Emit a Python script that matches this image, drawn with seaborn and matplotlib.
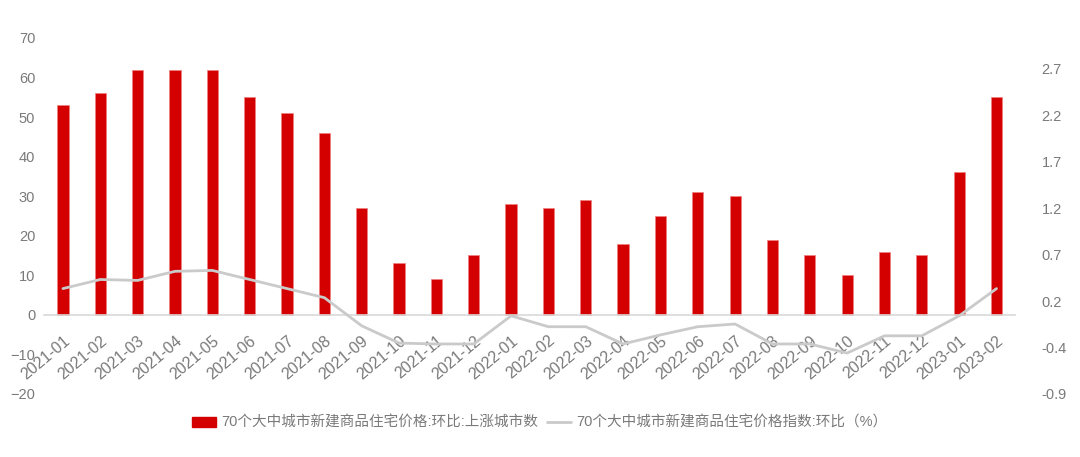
import numpy as np
import pandas as pd
import seaborn as sns
import matplotlib.pyplot as plt
from matplotlib.patches import Patch
from matplotlib.lines import Line2D

months = [
    "2021-01", "2021-02", "2021-03", "2021-04", "2021-05", "2021-06",
    "2021-07", "2021-08", "2021-09", "2021-10", "2021-11", "2021-12",
    "2022-01", "2022-02", "2022-03", "2022-04", "2022-05", "2022-06",
    "2022-07", "2022-08", "2022-09", "2022-10", "2022-11", "2022-12",
    "2023-01", "2023-02",
]
rising_cities = [53, 56, 62, 62, 62, 55, 51, 46, 27, 13, 9, 15,
                 28, 27, 29, 18, 25, 31, 30, 19, 15, 10, 16, 15, 36, 55]
mom_index = [0.30, 0.40, 0.39, 0.49, 0.50, 0.40, 0.30, 0.20, -0.11, -0.30, -0.31, -0.31,
             0.00, -0.12, -0.12, -0.31, -0.21, -0.12, -0.09, -0.31, -0.31, -0.41, -0.22, -0.22,
             0.00, 0.30]
right_tick_labels = ["-0.9", "-0.4", "0.2", "0.7", "1.2", "1.7", "2.2", "2.7"]

bar_label = "70个大中城市新建商品住宅价格:环比:上涨城市数"
line_label = "70个大中城市新建商品住宅价格指数:环比（%）"

df = pd.DataFrame({"month": months, "count": rising_cities, "mom": mom_index})
df["pos"] = np.arange(len(df))

sns.set_theme(style="white")
plt.rcParams["font.family"] = ["Liberation Sans", "Noto Sans CJK SC", "DejaVu Sans"]

red = "#d40000"
grey_line = "#cacaca"
text_col = "#7a7a7a"

fig = plt.figure(figsize=(10.8, 4.57), dpi=100)
ax = fig.add_axes([0.041, 0.138, 0.899, 0.779])

sns.barplot(data=df, x="month", y="count", color=red, width=0.3,
            saturation=1, edgecolor="#ef8080", linewidth=0.5, ax=ax)
ax.set_xlim(-0.5, len(df) - 0.5)
ax.set_ylim(-20, 70)
ax.set_yticks(range(-20, 71, 10))
ax.set_xlabel("")
ax.set_ylabel("")

for s in ["top", "right", "left"]:
    ax.spines[s].set_visible(False)
ax.spines["bottom"].set_position(("data", 0))
ax.spines["bottom"].set_color("#d9d9d9")
ax.spines["bottom"].set_linewidth(1.2)

ax.set_xticks(df["pos"])
ax.set_xticklabels(months, rotation=40, ha="right", rotation_mode="anchor")
ax.set_xticks(np.arange(-0.5, len(df), 1), minor=True)
ax.tick_params(axis="x", which="major", length=0, pad=13,
               labelsize=11.5, labelcolor=text_col)
ax.tick_params(axis="x", which="minor", length=5, width=1.2,
               color="#d9d9d9", direction="out")
ax.tick_params(axis="y", length=0, pad=6.5, labelsize=10.5, labelcolor=text_col)

ax2 = ax.twinx()
sns.lineplot(data=df, x="pos", y="mom", color=grey_line, linewidth=2, ax=ax2)
ax2.set_ylim(-0.86, 3.06)
ax2.set_yticks(-0.86 + 0.5114 * np.arange(8))
ax2.set_yticklabels(right_tick_labels)
ax2.tick_params(axis="y", length=0, pad=19, labelsize=10.5, labelcolor=text_col)
ax2.set_xlabel("")
ax2.set_ylabel("")
for s in ["top", "right", "left", "bottom"]:
    ax2.spines[s].set_visible(False)
ax2.set_xlim(-0.5, len(df) - 0.5)

handles = [Patch(facecolor=red, edgecolor=red),
           Line2D([0], [0], color=grey_line, linewidth=2)]
fig.legend(handles, [bar_label, line_label], loc="center",
           bbox_to_anchor=(0.5, 0.075), ncol=2, frameon=False,
           fontsize=10.5, labelcolor=text_col, handlelength=1.6,
           handletextpad=0.4, columnspacing=0.6)

fig.savefig("out.png", dpi=100)
